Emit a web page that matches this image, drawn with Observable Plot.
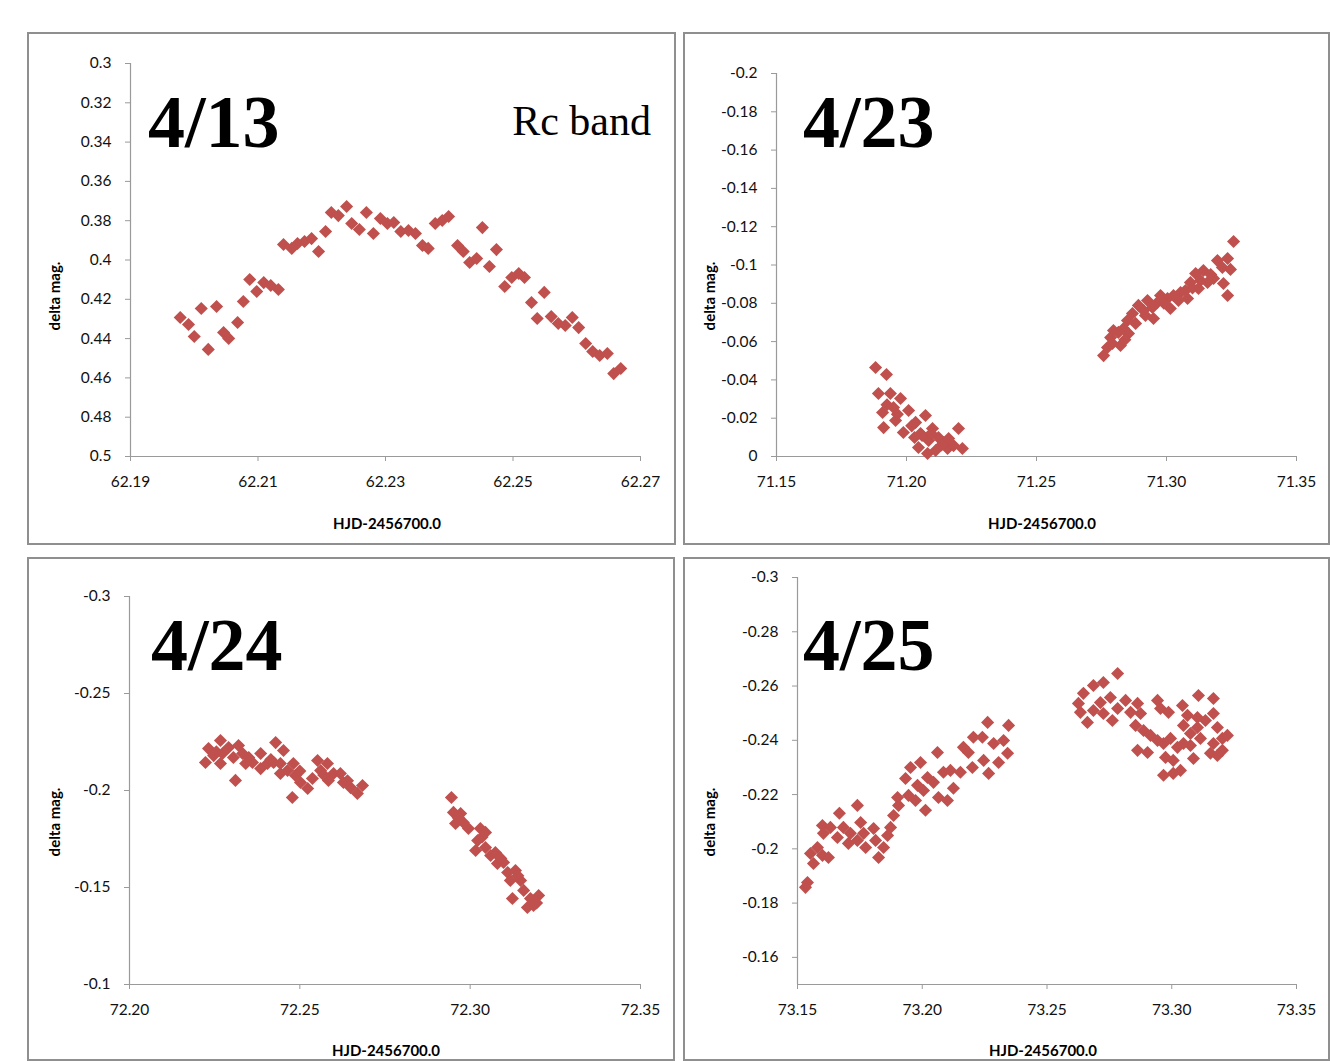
<!DOCTYPE html>
<html><head><meta charset="utf-8">
<script src="https://cdn.jsdelivr.net/npm/d3@7"></script>
<script src="https://cdn.jsdelivr.net/npm/@observablehq/plot@0.6"></script>
<style>
html,body{margin:0;padding:0;background:#fff}
body{width:1330px;height:1061px;position:relative;overflow:hidden;font-family:Lato,sans-serif}
.panel{position:absolute;border:2px solid #8f8f8f;box-sizing:border-box}
.plot{position:absolute}
#overlay{position:absolute;left:0;top:0;pointer-events:none}
</style></head>
<body>
<script>
// ---------- Data ----------
const dates = ["4/13", "4/23", "4/24", "4/25"];
const bandLabel = "Rc band";
const xTitle = "HJD-2456700.0";
const yTitle = "delta mag.";

// 4/13
const p1X = [62.1978,62.1991,62.2000,62.2011,62.2022,62.2035,62.2046,62.2054,62.2068,62.2077,62.2087,62.2098,62.2109,62.2120,62.2132,62.2140,62.2153,62.2162,62.2173,62.2184,62.2195,62.2206,62.2215,62.2226,62.2239,62.2247,62.2259,62.2270,62.2281,62.2292,62.2303,62.2313,62.2324,62.2336,62.2347,62.2358,62.2367,62.2378,62.2389,62.2399,62.2413,62.2422,62.2432,62.2443,62.2452,62.2463,62.2474,62.2487,62.2498,62.2509,62.2518,62.2529,62.2538,62.2549,62.2560,62.2571,62.2582,62.2593,62.2603,62.2614,62.2625,62.2636,62.2648,62.2658,62.2669];
const p1Y = [0.4293,0.4328,0.4389,0.4247,0.4455,0.4237,0.4369,0.4399,0.4318,0.4211,0.4099,0.4160,0.4115,0.4130,0.4150,0.3921,0.3941,0.3916,0.3906,0.3891,0.3957,0.3855,0.3758,0.3774,0.3728,0.3814,0.3845,0.3758,0.3865,0.3789,0.3814,0.3809,0.3855,0.3850,0.3865,0.3926,0.3941,0.3814,0.3799,0.3779,0.3926,0.3957,0.4013,0.3992,0.3835,0.4033,0.3947,0.4135,0.4089,0.4069,0.4089,0.4216,0.4298,0.4165,0.4288,0.4323,0.4333,0.4293,0.4344,0.4425,0.4466,0.4486,0.4476,0.4578,0.4552];

// 4/23
const p2X = [71.1881,71.1923,71.1892,71.1938,71.1977,71.1908,71.1950,71.2008,71.1912,71.1958,71.1988,71.2035,71.2073,71.2054,71.2046,71.2085,71.2100,71.2123,71.2112,71.2158,71.2162,71.2200,71.2181,71.2215,71.2081,71.2031,71.2142,71.1925,71.1965,71.2020,71.2060,71.2095,71.2135,
  71.3258,71.3196,71.3235,71.3246,71.3215,71.3235,71.3219,71.3181,71.3158,71.3142,71.3112,71.3123,71.3092,71.3081,71.3054,71.3027,71.3004,71.3015,71.2977,71.2965,71.2946,71.2950,71.2927,71.2912,71.2892,71.2869,71.2881,71.2850,71.2835,71.2815,71.2796,71.2785,71.2823,71.2792,71.2773,71.2758,71.3073,71.3131,71.3046,71.2919,71.2854,71.2990,71.3100,71.3170,71.2840];
const p2Y = [-0.0465,-0.0428,-0.0329,-0.0329,-0.0303,-0.0230,-0.0256,-0.0240,-0.0151,-0.0188,-0.0125,-0.0178,-0.0214,-0.0120,-0.0047,-0.0084,-0.0146,-0.0099,-0.0031,-0.0042,-0.0094,-0.0146,-0.0057,-0.0042,-0.0016,-0.0099,-0.0073,-0.0270,-0.0220,-0.0160,-0.0110,-0.0120,-0.0060,
  -0.1123,-0.1023,-0.1034,-0.0977,-0.0987,-0.0841,-0.0903,-0.0930,-0.0909,-0.0971,-0.0956,-0.0877,-0.0909,-0.0825,-0.0856,-0.0841,-0.0825,-0.0773,-0.0841,-0.0804,-0.0778,-0.0721,-0.0815,-0.0762,-0.0789,-0.0747,-0.0695,-0.0710,-0.0668,-0.0648,-0.0658,-0.0621,-0.0580,-0.0590,-0.0569,-0.0527,-0.0867,-0.0919,-0.0815,-0.0736,-0.0642,-0.0800,-0.0880,-0.0950,-0.0610];

// 4/24
const p3X = [72.2267,72.2232,72.2223,72.2247,72.2273,72.2267,72.2291,72.2305,72.2311,72.2320,72.2332,72.2341,72.2361,72.2385,72.2385,72.2405,72.2429,72.2452,72.2423,72.2443,72.2443,72.2464,72.2481,72.2487,72.2478,72.2502,72.2523,72.2537,72.2552,72.2561,72.2581,72.2584,72.2599,72.2619,72.2628,72.2649,72.2669,72.2684,72.2255,72.2350,72.2415,72.2500,72.2570,72.2640,
  72.2945,72.2951,72.2972,72.2957,72.2980,72.2995,72.3030,72.3045,72.3022,72.3016,72.3045,72.3060,72.3074,72.3080,72.3098,72.3110,72.3133,72.3118,72.3148,72.3124,72.3157,72.3177,72.3168,72.3201,72.3186,72.2965,72.3035,72.3090,72.3140,72.3195];
const p3Y = [-0.2258,-0.2216,-0.2144,-0.2180,-0.2191,-0.2139,-0.2222,-0.2170,-0.2052,-0.2232,-0.2191,-0.2139,-0.2144,-0.2191,-0.2113,-0.2139,-0.2247,-0.2206,-0.2144,-0.2139,-0.2088,-0.2103,-0.2139,-0.2077,-0.1964,-0.2041,-0.2010,-0.2062,-0.2155,-0.2103,-0.2139,-0.2052,-0.2088,-0.2088,-0.2041,-0.2015,-0.1985,-0.2026,-0.2200,-0.2170,-0.2160,-0.2100,-0.2080,-0.2050,
  -0.1964,-0.1887,-0.1881,-0.1830,-0.1835,-0.1804,-0.1804,-0.1784,-0.1742,-0.1691,-0.1706,-0.1665,-0.1680,-0.1624,-0.1629,-0.1577,-0.1588,-0.1536,-0.1536,-0.1443,-0.1485,-0.1443,-0.1397,-0.1459,-0.1407,-0.1860,-0.1760,-0.1650,-0.1560,-0.1420];

// 4/25
const p4X = [73.1532,73.1540,73.1564,73.1552,73.1580,73.1600,73.1624,73.1604,73.1600,73.1632,73.1668,73.1660,73.1684,73.1712,73.1704,73.1740,73.1753,73.1740,73.1773,73.1765,73.1805,73.1813,73.1825,73.1845,73.1861,73.1873,73.1885,73.1901,73.1905,73.1933,73.1953,73.1945,73.1973,73.1981,73.1993,73.2013,73.2021,73.2005,73.2045,73.2061,73.2065,73.2085,73.2101,73.2125,73.2113,73.2153,73.2165,73.2185,73.2201,73.2205,73.2241,73.2262,73.2246,73.2266,73.2286,73.2306,73.2326,73.2342,73.2346,
  73.2783,73.2686,73.2726,73.2646,73.2626,73.2634,73.2662,73.2686,73.2714,73.2726,73.2762,73.2754,73.2783,73.2815,73.2835,73.2863,73.2875,73.2855,73.2887,73.2915,73.2943,73.2955,73.2987,73.2943,73.2967,73.2995,73.3023,73.2863,73.2903,73.2975,73.3006,73.2967,73.3006,73.3035,73.3043,73.3063,73.3047,73.3075,73.3103,73.3103,73.3107,73.3167,73.3135,73.3167,73.3183,73.3115,73.3075,73.3047,73.3087,73.3167,73.3203,73.3223,73.3203,73.3155,73.3183];
const p4Y = [-0.1858,-0.1876,-0.1946,-0.1983,-0.2005,-0.1976,-0.1968,-0.2057,-0.2086,-0.2079,-0.2131,-0.2042,-0.2079,-0.2057,-0.2020,-0.2160,-0.2097,-0.2031,-0.2005,-0.2057,-0.2075,-0.2031,-0.1968,-0.2005,-0.2049,-0.2079,-0.2123,-0.2189,-0.2160,-0.2259,-0.2300,-0.2197,-0.2178,-0.2234,-0.2318,-0.2142,-0.2263,-0.2215,-0.2245,-0.2355,-0.2189,-0.2282,-0.2178,-0.2223,-0.2289,-0.2282,-0.2374,-0.2355,-0.2300,-0.2411,-0.2411,-0.2466,-0.2326,-0.2278,-0.2388,-0.2318,-0.2399,-0.2352,-0.2455,
  -0.2646,-0.2602,-0.2613,-0.2573,-0.2536,-0.2503,-0.2466,-0.2510,-0.2539,-0.2499,-0.2473,-0.2558,-0.2517,-0.2547,-0.2503,-0.2536,-0.2499,-0.2455,-0.2436,-0.2418,-0.2547,-0.2517,-0.2503,-0.2399,-0.2388,-0.2407,-0.2374,-0.2363,-0.2355,-0.2337,-0.2326,-0.2271,-0.2278,-0.2289,-0.2528,-0.2492,-0.2455,-0.2425,-0.2447,-0.2484,-0.2565,-0.2554,-0.2473,-0.2499,-0.2447,-0.2407,-0.2381,-0.2388,-0.2333,-0.2388,-0.2407,-0.2418,-0.2363,-0.2352,-0.2344];

// axis domains and ticks
const p1XDomain = [62.19, 62.27], p1XTicks = [62.19, 62.21, 62.23, 62.25, 62.27];
const p1YDomain = [0.3, 0.5],     p1YTicks = [0.3, 0.32, 0.34, 0.36, 0.38, 0.4, 0.42, 0.44, 0.46, 0.48, 0.5];
const p2XDomain = [71.15, 71.35], p2XTicks = [71.15, 71.20, 71.25, 71.30, 71.35];
const p2YDomain = [-0.2, 0],      p2YTicks = [-0.2, -0.18, -0.16, -0.14, -0.12, -0.1, -0.08, -0.06, -0.04, -0.02, 0];
const p3XDomain = [72.20, 72.35], p3XTicks = [72.20, 72.25, 72.30, 72.35];
const p3YDomain = [-0.3, -0.1],   p3YTicks = [-0.3, -0.25, -0.2, -0.15, -0.1];
const p4XDomain = [73.15, 73.35], p4XTicks = [73.15, 73.20, 73.25, 73.30, 73.35];
const p4YDomain = [-0.3, -0.15],  p4YTicks = [-0.3, -0.28, -0.26, -0.24, -0.22, -0.2, -0.18, -0.16];

const MARKER = "#C0504D";
const AXIS = "#9a9a9a";

// ---------- Layout (page px) ----------
const layout = [
  {box:[27,32,649,513],  plot:{ml:103, mr:36, mt:31, mb:89}},
  {box:[683,32,647,513], plot:{ml:93,  mr:34, mt:41, mb:89}},
  {box:[27,557,648,504], plot:{ml:102, mr:35, mt:39, mb:77}},
  {box:[683,557,647,504],plot:{ml:114, mr:34, mt:20, mb:77}}
];
const panels = [
  {xs:p1X, ys:p1Y, xd:p1XDomain, xt:p1XTicks, yd:p1YDomain, yt:p1YTicks},
  {xs:p2X, ys:p2Y, xd:p2XDomain, xt:p2XTicks, yd:p2YDomain, yt:p2YTicks},
  {xs:p3X, ys:p3Y, xd:p3XDomain, xt:p3XTicks, yd:p3YDomain, yt:p3YTicks},
  {xs:p4X, ys:p4Y, xd:p4XDomain, xt:p4XTicks, yd:p4YDomain, yt:p4YTicks}
];

const yFmt = d => String(+d.toFixed(4));
const xFmt = d => d.toFixed(2);

panels.forEach((p, i) => {
  const [left, top, w, h] = layout[i].box;
  const m = layout[i].plot;
  const border = document.createElement("div");
  border.className = "panel";
  Object.assign(border.style, {left: left+"px", top: top+"px", width: w+"px", height: h+"px"});
  document.body.appendChild(border);

  const data = p.xs.map((x, k) => ({x, y: p.ys[k]}));
  const chart = Plot.plot({
    width: w, height: h,
    marginLeft: m.ml, marginRight: m.mr, marginTop: m.mt, marginBottom: m.mb,
    style: {fontFamily: "Lato, sans-serif", fontSize: "15.5px", background: "transparent", overflow: "visible"},
    x: {domain: p.xd},
    y: {domain: p.yd, reverse: true},
    marks: [
      Plot.axisX({ticks: p.xt, tickFormat: xFmt, tickSize: 5, tickPadding: 14, stroke: AXIS, fill: "#111", label: null}),
      Plot.axisY({ticks: p.yt, tickFormat: yFmt, tickSize: 5, tickPadding: 14, stroke: AXIS, fill: "#111", label: null}),
      Plot.ruleX([p.xd[0]], {stroke: AXIS, strokeWidth: 1.2}),
      Plot.ruleY([p.yd[1]], {stroke: AXIS, strokeWidth: 1.2}),
      Plot.dot(data, {x: "x", y: "y", symbol: "diamond2", r: 5.9, fill: MARKER, stroke: "none"})
    ]
  });
  chart.classList.add("plot");
  chart.style.left = left + "px";
  chart.style.top = top + "px";
  document.body.appendChild(chart);
});

// ---------- Text overlay ----------
const svg = d3.select("body").append("svg").attr("id", "overlay").attr("width", 1330).attr("height", 1061);
const datePos = [[148,147],[803,147],[151,670],[803,670]];
dates.forEach((t, i) => {
  svg.append("text").attr("x", datePos[i][0]).attr("y", datePos[i][1])
    .attr("font-family", "Liberation Serif, Times New Roman, serif").attr("font-weight", "bold")
    .attr("font-size", 74).attr("fill", "#000").text(t);
});
svg.append("text").attr("x", 651).attr("y", 135).attr("text-anchor", "end")
  .attr("font-family", "Liberation Serif, Times New Roman, serif").attr("font-size", 42).attr("fill", "#000").text(bandLabel);

const yTitlePos = [[55,296],[710,296],[55,822],[710,822]];
yTitlePos.forEach(([x, y]) => {
  svg.append("text").attr("transform", `translate(${x},${y}) rotate(-90)`).attr("text-anchor", "middle")
    .attr("dy", "0.35em").attr("font-family", "Lato, sans-serif").attr("font-weight", "bold")
    .attr("font-size", 15).attr("fill", "#000").text(yTitle);
});
const xTitlePos = [[387,529],[1042,529],[386,1056],[1043,1056]];
xTitlePos.forEach(([x, y]) => {
  svg.append("text").attr("x", x).attr("y", y).attr("text-anchor", "middle")
    .attr("font-family", "Lato, sans-serif").attr("font-weight", "bold")
    .attr("font-size", 15).attr("fill", "#000").text(xTitle);
});
</script>
</body></html>
